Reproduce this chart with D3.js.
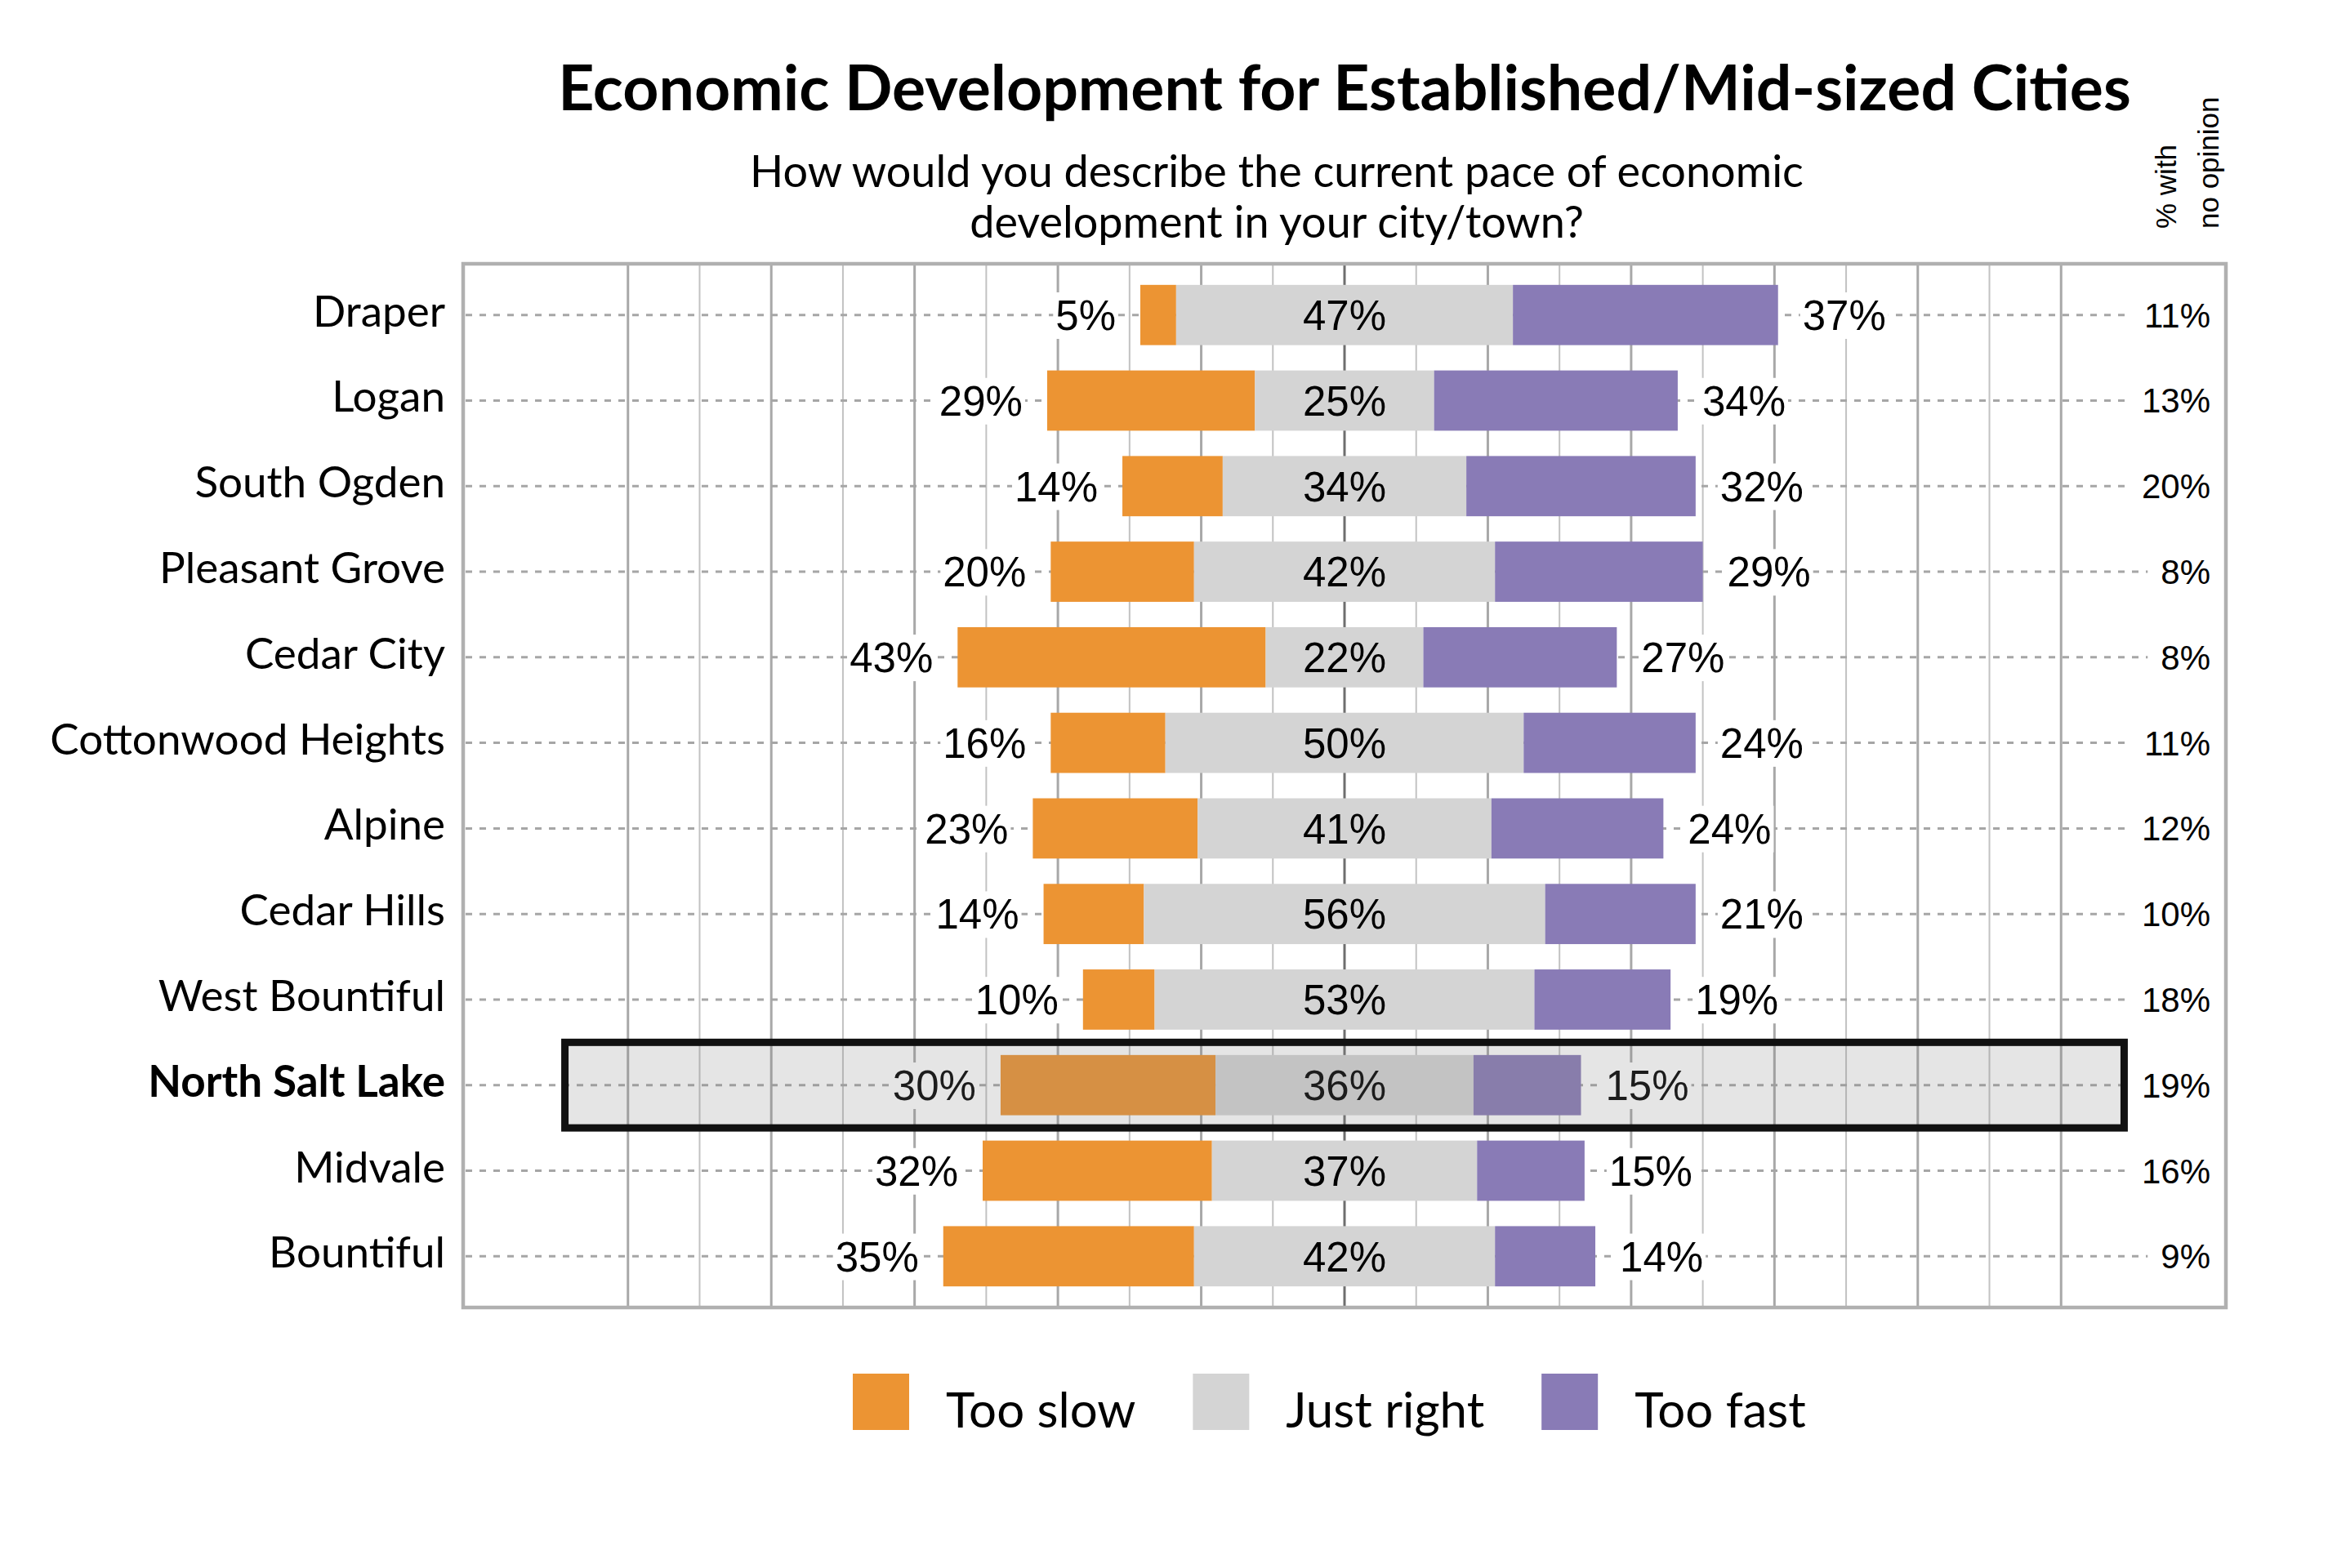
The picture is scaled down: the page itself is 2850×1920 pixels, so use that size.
<!DOCTYPE html>
<html>
<head>
<meta charset="utf-8">
<script src="https://cdn.jsdelivr.net/npm/d3@7"></script>
<style>
  body { margin: 0; background: #fff; }
  svg { display: block; }
</style>
</head>
<body>
<svg id="chart" width="2850" height="1920"></svg>
<script>
// survey data, one entry per city (percent)
var cities = ["Draper", "Logan", "South Ogden", "Pleasant Grove", "Cedar City",
  "Cottonwood Heights", "Alpine", "Cedar Hills", "West Bountiful",
  "North Salt Lake", "Midvale", "Bountiful"];
var tooSlow   = [5, 29, 14, 20, 43, 16, 23, 14, 10, 30, 32, 35];
var justRight = [47, 25, 34, 42, 22, 50, 41, 56, 53, 36, 37, 42];
var tooFast   = [37, 34, 32, 29, 27, 24, 24, 21, 19, 15, 15, 14];
var noOpinion = [11, 13, 20, 8, 8, 11, 12, 10, 18, 19, 16, 9];
var highlightCity = "North Salt Lake";

var seriesNames = ["Too slow", "Just right", "Too fast"];
var seriesColors = ["#EC9433", "#D4D4D4", "#897BB6"];

// vertical grid every 10%
var gridTicks = [-100, -90, -80, -70, -60, -50, -40, -30, -20, -10, 0,
  10, 20, 30, 40, 50, 60, 70, 80, 90, 100];

var titleText = "Economic Development for Established/Mid-sized Cities";
var subtitleLines = ["How would you describe the current pace of economic",
  "development in your city/town?"];
var headerLines = ["% with", "no opinion"];

var calibriLike = "Lato, 'Open Sans', sans-serif";
var arialLike = "'Liberation Sans', Arial, sans-serif";

//plot box
var plot = {left: 567, right: 2725, top: 323, bottom: 1601};

var svg = d3.select("#chart");

var x = d3.scaleLinear()
  .domain([-123, 123])
  .range([plot.left, plot.right]);

var y = d3.scaleBand()
  .domain(cities)
  .range([plot.top, plot.bottom])
  .paddingInner(0.296)
  .paddingOuter(0.2465);

function rowMid(c) { return y(c) + y.bandwidth() / 2; }

// stacked segments centred on the "just right" bar
var rows = cities.map(function(c, i) {
  var h = justRight[i] / 2;
  return {
    city: c,
    noOpinion: noOpinion[i],
    segs: [
      {k: 0, v: tooSlow[i], x0: -h - tooSlow[i], x1: -h},
      {k: 1, v: justRight[i], x0: -h, x1: h},
      {k: 2, v: tooFast[i], x0: h, x1: h + tooFast[i]}
    ]
  };
});

//grid
svg.append("g")
  .selectAll("line")
  .data(gridTicks)
  .enter().append("line")
  .attr("x1", function(d) { return x(d); })
  .attr("x2", function(d) { return x(d); })
  .attr("y1", plot.top)
  .attr("y2", plot.bottom)
  .attr("stroke", function(d) { return d === 0 ? "#6E6E6E" : (d % 20 === 0 ? "#A8A8A8" : "#C2C2C2"); })
  .attr("stroke-width", function(d) { return d % 20 === 0 ? 3 : 2; });

svg.append("rect")
  .attr("x", plot.left)
  .attr("y", plot.top)
  .attr("width", plot.right - plot.left)
  .attr("height", plot.bottom - plot.top)
  .attr("fill", "none")
  .attr("stroke", "#B0B0B0")
  .attr("stroke-width", 4.5);

// dashed row guides
svg.append("g")
  .selectAll("line")
  .data(cities)
  .enter().append("line")
  .attr("x1", plot.left + 3)
  .attr("x2", plot.right - 3)
  .attr("y1", rowMid)
  .attr("y2", rowMid)
  .attr("stroke", "#A6A6A6")
  .attr("stroke-width", 3)
  .attr("stroke-dasharray", "8,9");

//bars
var rowG = svg.append("g")
  .selectAll("g")
  .data(rows)
  .enter().append("g");

rowG.selectAll("rect")
  .data(function(d) { return d.segs; })
  .enter().append("rect")
  .attr("x", function(d) { return x(d.x0); })
  .attr("width", function(d) { return x(d.x1) - x(d.x0); })
  .attr("y", function(d) { return y(d3.select(this.parentNode).datum().city); })
  .attr("height", y.bandwidth())
  .attr("fill", function(d) { return seriesColors[d.k]; });

// value labels
var labelSize = 51;
rowG.each(function(r) {
  var g = d3.select(this);
  var cy = rowMid(r.city) + labelSize * 0.358;
  var specs = [
    {v: r.segs[0].v, x: x(r.segs[0].x0) - 30, anchor: "end", bg: true},
    {v: r.segs[1].v, x: x(0), anchor: "middle", bg: false},
    {v: r.segs[2].v, x: x(r.segs[2].x1) + 30, anchor: "start", bg: true}
  ];
  specs.forEach(function(s) {
    var t = g.append("text")
      .attr("x", s.x)
      .attr("y", cy)
      .attr("text-anchor", s.anchor)
      .attr("font-family", arialLike)
      .attr("font-size", labelSize + "px")
      .attr("fill", "#000")
      .text(s.v + "%");
    if (s.bg) {
      var b = t.node().getBBox();
      g.insert("rect", function() { return t.node(); })
        .attr("x", b.x - 3)
        .attr("y", b.y)
        .attr("width", b.width + 6)
        .attr("height", b.height)
        .attr("fill", "#fff");
    }
  });
});

// highlighted row: grey veil plus black frame
var hx0 = x(-108.8), hx1 = x(108.8);
var hy0 = y(highlightCity) - y.step() * y.paddingInner() / 2;
svg.append("rect")
  .attr("x", hx0)
  .attr("y", hy0)
  .attr("width", hx1 - hx0)
  .attr("height", y.step())
  .attr("fill", "rgb(130,130,130)")
  .attr("fill-opacity", 0.21);
svg.append("rect")
  .attr("x", hx0)
  .attr("y", hy0)
  .attr("width", hx1 - hx0)
  .attr("height", y.step())
  .attr("fill", "none")
  .attr("stroke", "#111")
  .attr("stroke-width", 9);

// no opinion column
var noG = svg.append("g")
  .selectAll("g")
  .data(rows)
  .enter().append("g");
noG.each(function(r) {
  var g = d3.select(this);
  var t = g.append("text")
    .attr("x", 2706)
    .attr("y", rowMid(r.city) + 15)
    .attr("text-anchor", "end")
    .attr("font-family", arialLike)
    .attr("font-size", "42px")
    .text(r.noOpinion + "%");
  var b = t.node().getBBox();
  g.insert("rect", "text")
    .attr("x", b.x - 16)
    .attr("y", b.y)
    .attr("width", plot.right - 3 - (b.x - 16))
    .attr("height", b.height)
    .attr("fill", "#fff");
});

// category labels
svg.append("g")
  .selectAll("text")
  .data(cities)
  .enter().append("text")
  .attr("x", 545)
  .attr("y", function(d) { return rowMid(d) + 14; })
  .attr("text-anchor", "end")
  .attr("font-family", calibriLike)
  .attr("font-size", "53px")
  .attr("font-weight", function(d) { return d === highlightCity ? "bold" : "normal"; })
  .text(function(d) { return d; });

//titles
svg.append("text")
  .attr("x", 1646)
  .attr("y", 135)
  .attr("text-anchor", "middle")
  .attr("font-family", calibriLike)
  .attr("font-weight", "bold")
  .attr("font-size", "77px")
  .text(titleText);

svg.append("g")
  .selectAll("text")
  .data(subtitleLines)
  .enter().append("text")
  .attr("x", 1563)
  .attr("y", function(d, i) { return 229 + i * 62; })
  .attr("text-anchor", "middle")
  .attr("font-family", calibriLike)
  .attr("font-size", "54px")
  .text(function(d) { return d; });

svg.append("g")
  .selectAll("text")
  .data(headerLines)
  .enter().append("text")
  .attr("transform", function(d, i) { return "translate(" + (2664 + i * 52) + ",280) rotate(-90)"; })
  .attr("font-family", arialLike)
  .attr("font-size", "35px")
  .text(function(d) { return d; });

//legend
var legX = 1044;
var legend = svg.append("g");
seriesNames.forEach(function(name, i) {
  legend.append("rect")
    .attr("x", legX)
    .attr("y", 1682)
    .attr("width", 69)
    .attr("height", 69)
    .attr("fill", seriesColors[i]);
  var t = legend.append("text")
    .attr("x", legX + 114)
    .attr("y", 1748)
    .attr("font-family", calibriLike)
    .attr("font-size", "60px")
    .text(name);
  legX += 114 + t.node().getComputedTextLength() + 70;
});
</script>
</body>
</html>
